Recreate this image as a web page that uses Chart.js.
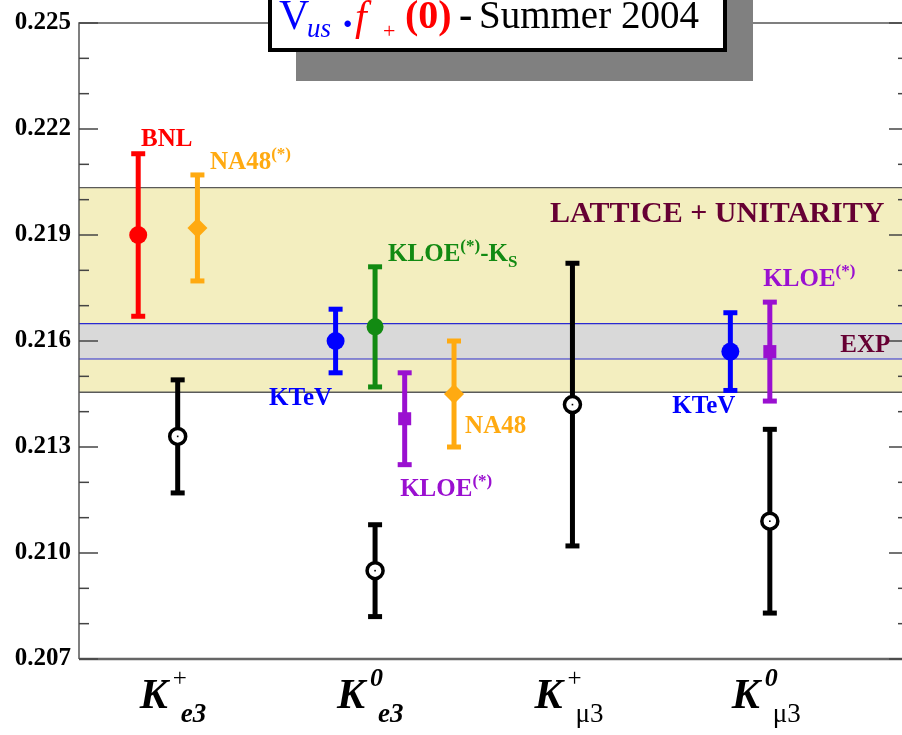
<!DOCTYPE html>
<html><head><meta charset="utf-8">
<script src="https://cdn.jsdelivr.net/npm/chart.js@4.4.1/dist/chart.umd.min.js"></script>
<style>
html,body{margin:0;padding:0;background:#fff;overflow:hidden;width:902px;height:735px}
#wrap{position:relative;width:902px;height:735px;overflow:hidden}
canvas{display:block}
</style></head><body><div id="wrap"><canvas id="c" width="910" height="735"></canvas></div>
<script>
// ---------- data ----------
const categories = ['K+e3', 'K0e3', 'K+μ3', 'K0μ3'];
const categoryX = [1, 2, 3, 4];
const categorySup = ['+', '0', '+', '0'];
const categorySub = ['e3', 'e3', 'μ3', 'μ3'];
const yTicks = [0.207, 0.210, 0.213, 0.216, 0.219, 0.222, 0.225];

const expNames  = ['BNL', 'NA48(*)', 'KTeV', 'KLOE(*)-KS', 'KLOE(*)', 'NA48', 'KTeV', 'KLOE(*)'];
const expX      = [0.8, 1.1, 1.8, 2.0, 2.15, 2.4, 3.8, 4.0];
const expValues = [0.2190, 0.2192, 0.2160, 0.2164, 0.2138, 0.2145, 0.2157, 0.2157];
const expErrors = [0.0023, 0.0015, 0.0009, 0.0017, 0.0013, 0.0015, 0.0011, 0.0014];

const avgValues = [0.2133, 0.2095, 0.2142, 0.2109];
const avgErrors = [0.0016, 0.0013, 0.0040, 0.0026];

const latticeBand = [0.21455, 0.22034];
const expBand = [0.21549, 0.21649];

// ---------- styles ----------
const RED = '#ff0000', ORANGE = '#ffaa11', BLUE = '#0000ff', GREEN = '#128a12', PURPLE = '#9a10d0', MAROON = '#660033';
const expColors = [RED, ORANGE, BLUE, GREEN, PURPLE, ORANGE, BLUE, PURPLE];
const expShapes = ['circle', 'rectRot', 'circle', 'circle', 'rect', 'rectRot', 'circle', 'rect'];
const expRadius = [9, 10, 9, 8.5, 9.2, 10, 9, 9.2];
const SERIF = '"Liberation Serif", "Times New Roman", serif';

// annotation labels (data coordinates of left baseline, or right baseline)
const annotations = [
  {x: 0.814, y: 0.22152, c: RED, segs: [['BNL', 25, 0]]},
  {x: 1.164, y: 0.22087, c: ORANGE, segs: [['NA48', 25, 0], ['(*)', 17, -10]]},
  {x: 2.066, y: 0.21826, c: GREEN, segs: [['KLOE', 25, 0], ['(*)', 17, -10], ['-K', 25, 0], ['S', 17, 6]]},
  {x: 1.463, y: 0.21419, c: BLUE, segs: [['KTeV', 25, 0]]},
  {x: 2.456, y: 0.21340, c: ORANGE, segs: [['NA48', 25, 0]]},
  {x: 2.127, y: 0.21161, c: PURPLE, segs: [['KLOE', 25, 0], ['(*)', 17, -10]]},
  {x: 3.506, y: 0.21396, c: BLUE, segs: [['KTeV', 25, 0]]},
  {x: 3.967, y: 0.21756, c: PURPLE, segs: [['KLOE', 25, 0], ['(*)', 17, -10]]},
  {x: 4.58, y: 0.21938, c: MAROON, right: true, segs: [['LATTICE + UNITARITY', 30, 0]]},
  {x: 4.61, y: 0.21568, c: MAROON, right: true, segs: [['EXP', 25, 0]]}
];

function drawSegs(ctx, x, y, segs, right) {
  let total = 0;
  segs.forEach(s => { ctx.font = s.f; total += ctx.measureText(s.t).width + (s.gap || 0); });
  let cx = right ? x - total : x;
  ctx.textAlign = 'left';
  ctx.textBaseline = 'alphabetic';
  segs.forEach(s => {
    ctx.font = s.f;
    ctx.fillStyle = s.c;
    ctx.fillText(s.t, cx, y + (s.dy || 0));
    cx += ctx.measureText(s.t).width + (s.gap || 0);
  });
}

const bandsPlugin = {
  id: 'bands',
  beforeDatasetsDraw(chart) {
    const {ctx, chartArea: a, scales: {y}} = chart;
    ctx.save();
    const l1 = y.getPixelForValue(latticeBand[1]), l0 = y.getPixelForValue(latticeBand[0]);
    ctx.fillStyle = '#f3eebf';
    ctx.fillRect(a.left, l1, a.right - a.left, l0 - l1);
    const e1 = y.getPixelForValue(expBand[1]), e0 = y.getPixelForValue(expBand[0]);
    ctx.fillStyle = '#d9d9d9';
    ctx.fillRect(a.left, e1, a.right - a.left, e0 - e1);
    ctx.lineWidth = 1.3;
    ctx.strokeStyle = '#5a5a5a';
    [l0, l1].forEach(p => { ctx.beginPath(); ctx.moveTo(a.left, p); ctx.lineTo(a.right, p); ctx.stroke(); });
    ctx.strokeStyle = '#2a2ad0';
    ctx.lineWidth = 1.2;
    [e0, e1].forEach(p => { ctx.beginPath(); ctx.moveTo(a.left, p); ctx.lineTo(a.right, p); ctx.stroke(); });

    // frame + ticks
    ctx.strokeStyle = '#555';
    ctx.lineWidth = 1.5;
    ctx.beginPath();
    ctx.moveTo(a.left, a.bottom); ctx.lineTo(a.left, a.top); ctx.lineTo(a.right, a.top); ctx.lineTo(a.right, a.bottom);
    ctx.stroke();
    ctx.lineWidth = 2.5;
    ctx.strokeStyle = '#666';
    ctx.beginPath(); ctx.moveTo(a.left, a.bottom); ctx.lineTo(a.right, a.bottom); ctx.stroke();
    ctx.lineWidth = 1.5;
    ctx.strokeStyle = '#444';
    const lo = Math.round(y.min * 1000), hi = Math.round(y.max * 1000);
    for (let k = lo; k <= hi; k++) {
      const p = y.getPixelForValue(k / 1000);
      const len = ((k - lo) % 3 === 0) ? 19 : 10;
      ctx.beginPath(); ctx.moveTo(a.left, p); ctx.lineTo(a.left + len, p); ctx.stroke();
      ctx.beginPath(); ctx.moveTo(a.right - len, p); ctx.lineTo(a.right, p); ctx.stroke();
    }

    // error bars
    chart.data.datasets.forEach((ds, di) => {
      const meta = chart.getDatasetMeta(di);
      ds.data.forEach((pt, i) => {
        const px = meta.data[i].x;
        const top = y.getPixelForValue(pt.y + ds.errors[i]);
        const bot = y.getPixelForValue(pt.y - ds.errors[i]);
        ctx.strokeStyle = ds.errColors[i];
        ctx.lineWidth = 5;
        ctx.lineCap = 'butt';
        ctx.beginPath(); ctx.moveTo(px, top); ctx.lineTo(px, bot); ctx.stroke();
        ctx.beginPath(); ctx.moveTo(px - 7, top); ctx.lineTo(px + 7, top); ctx.stroke();
        ctx.beginPath(); ctx.moveTo(px - 7, bot); ctx.lineTo(px + 7, bot); ctx.stroke();
      });
    });
    ctx.restore();
  },
  afterDatasetsDraw(chart) {
    const {ctx, chartArea: a, scales: {x, y}} = chart;
    ctx.save();
    // small center dot for open circles
    const meta = chart.getDatasetMeta(1);
    ctx.fillStyle = '#000';
    meta.data.forEach(el => { ctx.fillRect(el.x - 0.8, el.y - 0.8, 1.6, 1.6); });

    annotations.forEach(an => {
      const segs = an.segs.map(s => ({t: s[0], f: 'bold ' + s[1] + 'px ' + SERIF, c: an.c, dy: s[2]}));
      drawSegs(ctx, x.getPixelForValue(an.x), y.getPixelForValue(an.y), segs, an.right);
    });

    // category labels
    categories.forEach((cat, i) => {
      const cx = x.getPixelForValue(categoryX[i]);
      const sx = cx - 38;
      ctx.fillStyle = '#000';
      ctx.textAlign = 'left';
      ctx.textBaseline = 'alphabetic';
      ctx.font = 'italic bold 42px ' + SERIF;
      ctx.fillText('K', sx, 708);
      ctx.font = (categorySup[i] === '+' ? '25px ' : 'italic bold 26px ') + SERIF;
      ctx.fillText(categorySup[i], sx + 33, 686);
      ctx.font = (categorySub[i] === 'e3' ? 'italic bold 27px ' : '27px ') + SERIF;
      ctx.fillText(categorySub[i], sx + 41, 722);
    });

    // title box
    ctx.fillStyle = '#808080';
    ctx.fillRect(296, -10, 457, 91);
    ctx.fillStyle = '#fff';
    ctx.fillRect(268, -10, 459, 62);
    ctx.strokeStyle = '#000';
    ctx.lineWidth = 4;
    ctx.strokeRect(270, -10, 455, 60);
    const tf = SERIF;
    ctx.textBaseline = 'alphabetic';
    ctx.textAlign = 'left';
    ctx.fillStyle = BLUE;
    ctx.font = '42px ' + tf; ctx.fillText('V', 279, 29);
    ctx.font = 'italic 27px ' + tf; ctx.fillText('us', 307, 37);
    ctx.font = 'bold 40px ' + tf; ctx.fillText('·', 341, 37);
    ctx.fillStyle = RED;
    ctx.font = 'italic 42px ' + tf; ctx.fillText('f', 355, 30);
    ctx.font = '22px ' + tf; ctx.fillText('+', 383, 38);
    ctx.font = 'bold 40px ' + tf; ctx.fillText('(0)', 405, 28);
    ctx.fillStyle = '#000';
    ctx.font = 'bold 40px ' + tf; ctx.fillText('-', 459, 28);
    ctx.font = '39px ' + tf; ctx.fillText('Summer 2004', 479, 28);
    ctx.restore();
  }
};

new Chart(document.getElementById('c'), {
  type: 'scatter',
  data: {
    datasets: [
      {
        label: 'experiments',
        data: expX.map((xv, i) => ({x: xv, y: expValues[i]})),
        errors: expErrors,
        errColors: expColors,
        pointStyle: expShapes,
        pointRadius: expRadius,
        pointBackgroundColor: expColors,
        pointBorderColor: expColors,
        pointBorderWidth: 0,
        pointHoverRadius: expRadius
      },
      {
        label: 'averages',
        data: categoryX.map((xv, i) => ({x: xv, y: avgValues[i]})),
        errors: avgErrors,
        errColors: avgValues.map(() => '#000'),
        pointStyle: 'circle',
        pointRadius: 8,
        pointBackgroundColor: '#fff',
        pointBorderColor: '#000',
        pointBorderWidth: 3.5
      }
    ]
  },
  options: {
    responsive: false,
    animation: false,
    events: [],
    layout: {autoPadding: false, padding: {top: 18, right: 2, bottom: 76, left: 0}},
    plugins: {legend: {display: false}, tooltip: {enabled: false}, title: {display: false}},
    scales: {
      x: {type: 'linear', min: 0.5, max: 4.7, display: false},
      y: {
        type: 'linear', min: 0.207, max: 0.225,
        afterBuildTicks: s => { s.ticks = yTicks.map(v => ({value: v})); },
        afterFit: s => { s.width = 79; },
        grid: {display: false, drawTicks: false},
        border: {display: false},
        ticks: {
          callback: v => Number(v).toFixed(3),
          font: {family: SERIF, size: 25, weight: 'bold'},
          color: '#000',
          padding: 8
        }
      }
    }
  },
  plugins: [bandsPlugin]
});
</script>
</body></html>
